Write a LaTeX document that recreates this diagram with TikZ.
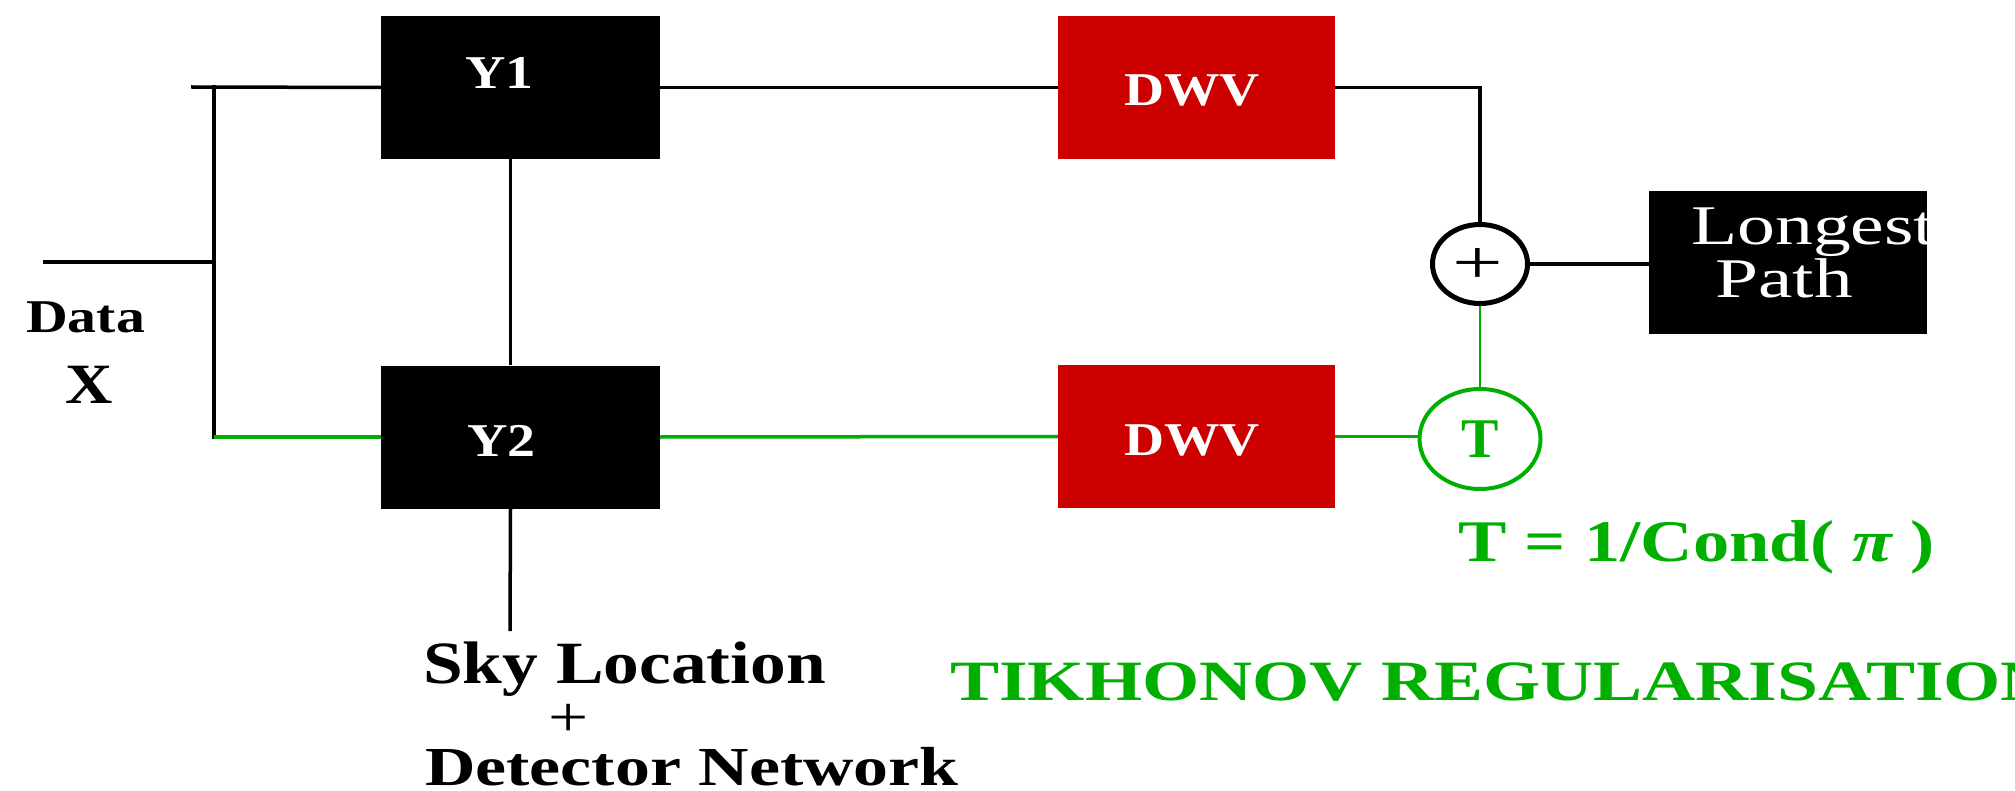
\documentclass[tikz,border=0pt]{standalone}
\usepackage{fontspec}
\setmainfont{Liberation Serif}
\usetikzlibrary{shapes.geometric,calc}
\definecolor{dgreen}{RGB}{0,175,0}
\definecolor{dred}{RGB}{205,0,0}
\newcommand\fsz[1]{\fontsize{#1}{#1}\selectfont}
\begin{document}
\begin{tikzpicture}[x=1pt,y=-1pt,
  blk/.style={rectangle, fill=black, inner sep=0pt, minimum width=279pt, minimum height=143pt},
  dwvbox/.style={rectangle, fill=dred, inner sep=0pt, minimum width=277pt, minimum height=143pt},
  lbl/.style={inner sep=0pt, anchor=base west},
  wire/.style={line width=3.5pt},
  gwire/.style={line width=3.5pt, draw=dgreen},
  sumnode/.style={ellipse, draw=black, line width=5pt, inner sep=0pt, minimum width=95pt, minimum height=79pt},
  tnode/.style={ellipse, draw=dgreen, line width=4pt, inner sep=0pt, minimum width=121pt, minimum height=100pt, text=dgreen}
]
\useasboundingbox[fill=white] (0,0) rectangle (2015,791);

% boxes
\node[blk] (Y1) at (520.5,87.5) {};
\node[blk] (Y2) at (520.5,437) {};
\node[dwvbox] (D1) at (1196.5,87.5) {};
\node[dwvbox] (D2) at (1196.5,436.5) {};
\node[blk, minimum width=278pt] (LP) at (1788,262.5) {};
\node[sumnode] (plus) at (1480,264) {};
\node[inner sep=0pt, xscale=1.45] (plussign) at (1478,266) {\fsz{62}+};
\node[tnode] (T) at (1480,439) {\fsz{56}\bfseries\raisebox{-2pt}{T}};

% box labels
\node[lbl, text=white, xscale=1.19] (y1t) at (465,89) {\fsz{47}\bfseries Y1};
\node[lbl, text=white, xscale=1.19] (y2t) at (467,456) {\fsz{47}\bfseries Y2};
\node[lbl, text=white, xscale=1.18] (d1t) at (1124,106) {\fsz{47}\bfseries DWV};
\node[lbl, text=white, xscale=1.18] (d2t) at (1124,455) {\fsz{47}\bfseries DWV};
\node[lbl, text=white, xscale=1.35] (lpa) at (1691,245) {\fsz{56}Longest};
\node[lbl, text=white, xscale=1.38] (lpb) at (1715,298) {\fsz{56}Path};

% free labels
\node[lbl, xscale=1.23] (data) at (26,333) {\fsz{47}\bfseries Data};
\node[lbl, xscale=1.15] (xin) at (65,403) {\fsz{57}\bfseries X};
\node[lbl, xscale=1.19] (sky) at (423,683) {\fsz{60}\bfseries Sky Location};
\node[inner sep=0pt, xscale=1.25] (skyplus) at (569,720) {\fsz{57}+};
\node[lbl, xscale=1.27, text depth=0pt] (det) at (425,785) {\fsz{55}\bfseries Detector Network};
\node[lbl, text=dgreen, xscale=1.23] (tform) at (1458,561) {\fsz{59}\bfseries T = 1/Cond( {\itshape π} )};
\node[lbl, text=dgreen, xscale=1.29] (tik) at (950,700) {\fsz{57}\bfseries TIKHONOV REGULARISATION};

% junction coordinates
\coordinate (din) at (43,262);
\coordinate (bj) at (214,262);
\coordinate (btop) at (214,87);
\coordinate (bbot) at (214,437);
\coordinate (stub) at (191,87);
\coordinate (skyc) at (510,631);

% connectors
\draw[wire] (din) -- (bj);
\draw[wire, line cap=rect] (btop) -- (bbot);
\draw[wire] (stub) -- (Y1.west);
\draw[gwire] (bbot) -- (Y2.west);
\draw[wire] (Y1.east) -- (D1.west);
\draw[gwire] (Y2.east) -- (D2.west);
\draw[wire] (D1.east) -| (plus.north);
\draw[wire] (plus.east) -- (plus.east -| LP.west);
\draw[draw=dgreen, line width=2.3pt] (plus.south) -- (T.north);
\draw[gwire] (D2.east) -- (D2.east -| T.west);
\draw[wire] ([xshift=-10pt]Y1.south) -- ([xshift=-10pt]Y2.north);
\draw[wire] ([xshift=-10pt]Y2.south) -- (skyc);
\end{tikzpicture}
\end{document}
